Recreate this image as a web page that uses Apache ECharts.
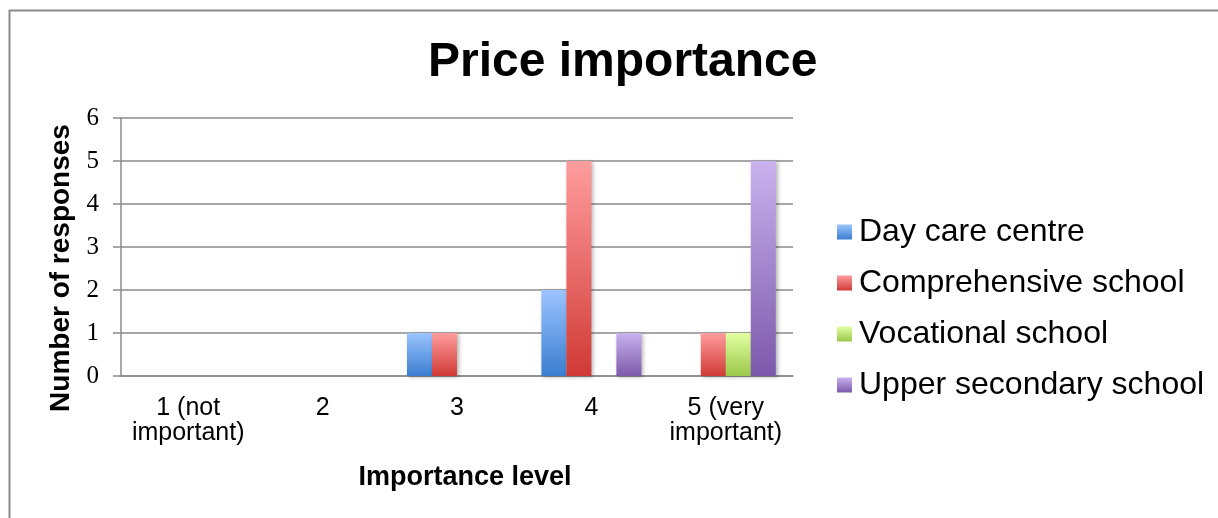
<!DOCTYPE html>
<html>
<head>
<meta charset="utf-8">
<script src="https://cdn.jsdelivr.net/npm/echarts@6/dist/echarts.min.js"></script>
<style>
  html, body { margin: 0; padding: 0; background: #fff; }
  #chart { width: 1218px; height: 518px; }
</style>
</head>
<body>
<div id="chart"></div>
<script>
// Importance levels on the x axis
const categories = ['1 (not\nimportant)', '2', '3', '4', '5 (very\nimportant)'];

// Number of responses per respondent group
const dayCare = [0, 0, 1, 2, 0];
const comprehensive = [0, 0, 1, 5, 1];
const vocational = [0, 0, 0, 0, 1];
const upperSecondary = [0, 0, 0, 1, 5];

const seriesNames = ['Day care centre', 'Comprehensive school', 'Vocational school', 'Upper secondary school'];

// top / bottom gradient stops for each group
const palette = [
  ['#9cc4ff', '#3a7dd0'],
  ['#ff9d9d', '#d03a36'],
  ['#e2ffa2', '#9bc84a'],
  ['#c9b2ee', '#7c58aa']
];

const sans = '"Liberation Sans", Arial, sans-serif';
const serif = '"Liberation Serif", "DejaVu Serif", serif';

function grad(c) {
  return new echarts.graphic.LinearGradient(0, 0, 0, 1, [
    { offset: 0, color: c[0] },
    { offset: 1, color: c[1] }
  ]);
}

const values = [dayCare, comprehensive, vocational, upperSecondary];

const series = values.map((data, i) => ({
  name: seriesNames[i],
  type: 'bar',
  data: data,
  barWidth: 25,
  barGap: '0%',
  itemStyle: {
    color: grad(palette[i]),
    shadowBlur: 4,
    shadowColor: 'rgba(0,0,0,0.3)',
    shadowOffsetX: 2,
    shadowOffsetY: 1
  },
  emphasis: { disabled: true }
}));

const chart = echarts.init(document.getElementById('chart'), null, { renderer: 'canvas' });

chart.setOption({
  animation: false,
  backgroundColor: '#ffffff',
  title: {
    text: 'Price importance',
    left: 423,
    top: 34,
    textStyle: { fontFamily: sans, fontSize: 48, fontWeight: 'bold', color: '#000' }
  },
  graphic: [{
    type: 'rect',
    shape: { x: 9.5, y: 10.5, width: 1400, height: 700 },
    style: { fill: 'none', stroke: '#8a8a8a', lineWidth: 2 },
    silent: true
  }],
  legend: {
    orient: 'vertical',
    left: 832,
    top: 211,
    itemWidth: 15,
    itemHeight: 15,
    itemGap: 19,
    icon: 'rect',
    data: seriesNames,
    textStyle: { fontFamily: sans, fontSize: 32, color: '#000', padding: [0, 0, 0, 2] }
  },
  grid: { left: 121, right: 425, top: 118, bottom: 142, containLabel: false },
  xAxis: {
    type: 'category',
    data: categories,
    name: 'Importance level',
    nameLocation: 'middle',
    nameGap: 88,
    nameTextStyle: {
      fontFamily: sans, fontSize: 27, fontWeight: 'bold', color: '#000',
      padding: [0, 0, 0, 16]
    },
    axisLine: { show: true, lineStyle: { color: '#8a8a8a', width: 1.5 } },
    axisTick: { show: false },
    axisLabel: {
      interval: 0,
      margin: 20,
      fontFamily: sans,
      fontSize: 25,
      lineHeight: 25,
      color: '#000'
    }
  },
  yAxis: {
    type: 'value',
    min: 0,
    max: 6,
    interval: 1,
    name: 'Number of responses',
    nameLocation: 'middle',
    nameGap: 42,
    nameRotate: 90,
    nameTextStyle: {
      fontFamily: sans, fontSize: 28, fontWeight: 'bold', color: '#000',
      padding: [0, 42, 0, 0]
    },
    axisLine: { show: true, lineStyle: { color: '#8a8a8a', width: 1.5 } },
    axisTick: { show: true, length: 8, lineStyle: { color: '#8a8a8a', width: 1.5 } },
    axisLabel: { margin: 22, fontFamily: serif, fontSize: 25, color: '#000' },
    splitLine: { show: true, lineStyle: { color: '#8a8a8a', width: 1.5 } }
  },
  series: series
});
</script>
</body>
</html>
